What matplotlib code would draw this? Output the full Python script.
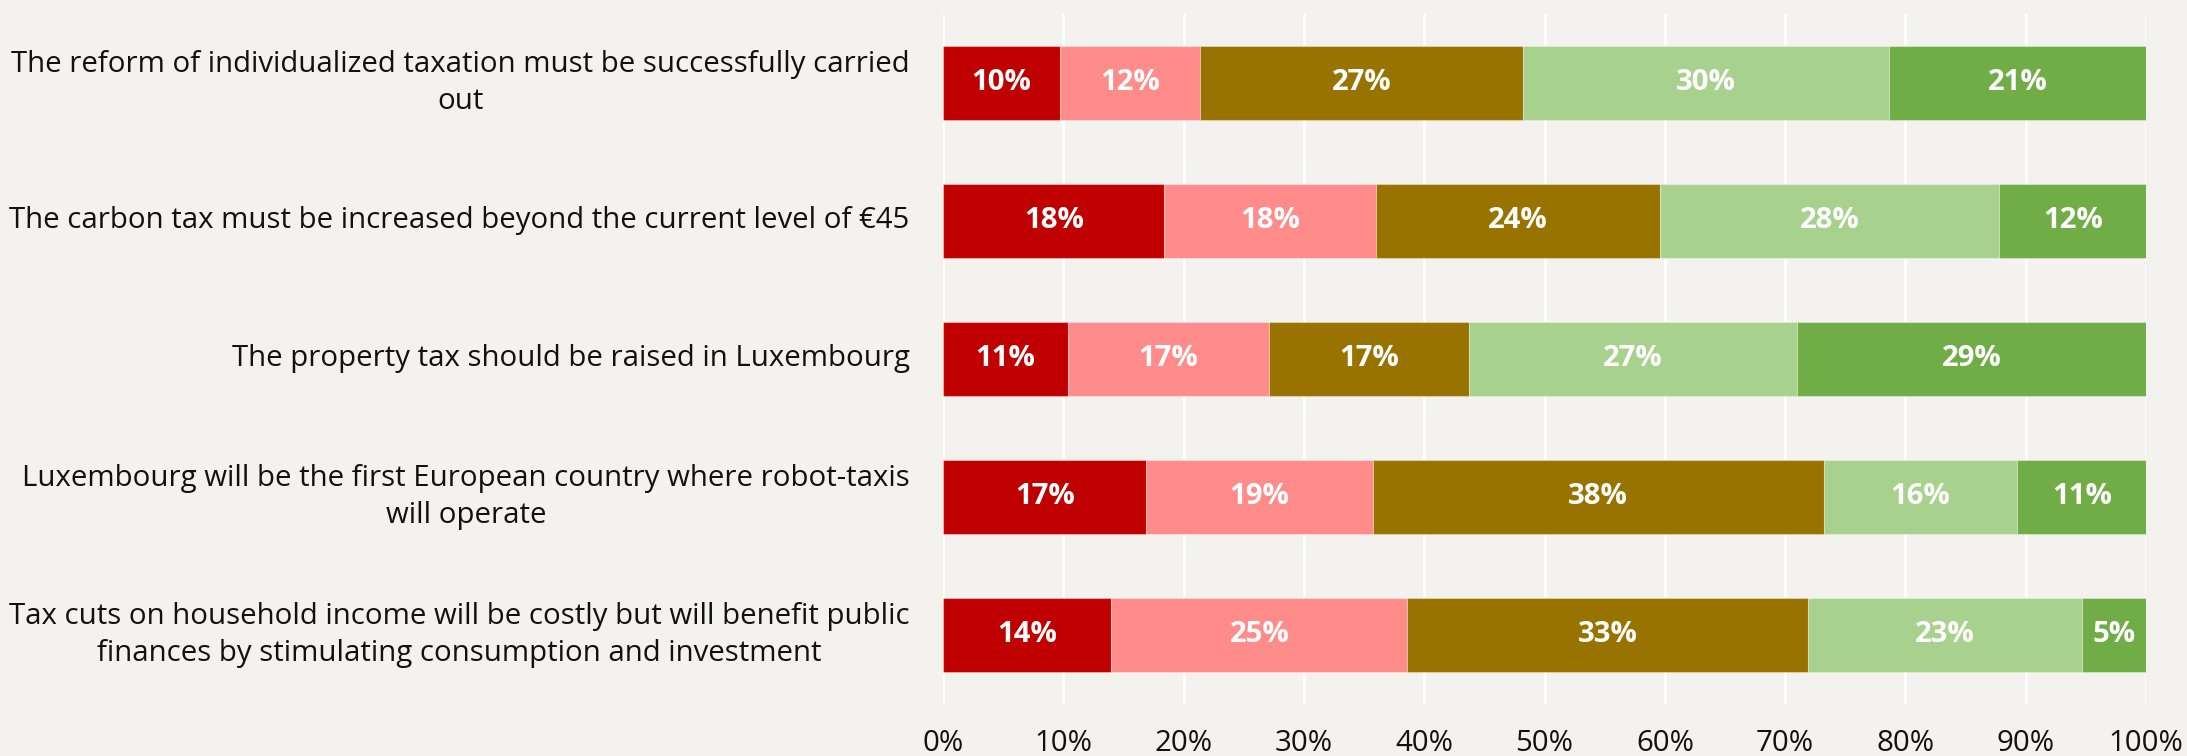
import matplotlib
matplotlib.use("Agg")
import matplotlib.pyplot as plt
import numpy as np

plt.rcParams['font.family'] = ['Open Sans', 'DejaVu Sans']

statements = [
    "The reform of individualized taxation must be successfully carried\nout",
    "The carbon tax must be increased beyond the current level of €45",
    "The property tax should be raised in Luxembourg",
    "Luxembourg will be the first European country where robot-taxis\nwill operate",
    "Tax cuts on household income will be costly but will benefit public\nfinances by stimulating consumption and investment",
]

# shares (%) per answer category
s1 = [9.7, 18.4, 10.4, 16.9, 14.0]
s2 = [11.7, 17.6, 16.7, 18.8, 24.6]
s3 = [26.8, 23.6, 16.6, 37.5, 33.3]
s4 = [30.4, 28.2, 27.3, 16.1, 22.8]
s5 = [21.4, 12.2, 29.0, 10.7, 5.3]

# printed labels
l1 = ["10%", "18%", "11%", "17%", "14%"]
l2 = ["12%", "18%", "17%", "19%", "25%"]
l3 = ["27%", "24%", "17%", "38%", "33%"]
l4 = ["30%", "28%", "27%", "16%", "23%"]
l5 = ["21%", "12%", "29%", "11%", "5%"]

colors = ["#C00000", "#FF8B8B", "#997300", "#A9D18E", "#70AD47"]
bg = "#F3F2EE"

fig = plt.figure(figsize=(21.87, 7.56), dpi=100, facecolor=bg)
ax = fig.add_axes([0.4312, 0.0688, 0.9813 - 0.4312, 0.9815 - 0.0688])
ax.set_facecolor(bg)

y = np.arange(len(statements))
left = np.zeros(len(statements))
for vals, labs, c in zip([s1, s2, s3, s4, s5], [l1, l2, l3, l4, l5], colors):
    vals = np.array(vals)
    bars = ax.barh(y, vals, left=left, height=0.536, color=c,
                   edgecolor=(1, 1, 1, 0.35), linewidth=0.8, zorder=3)
    for b, lab in zip(bars, labs):
        ax.text(b.get_x() + b.get_width() / 2, b.get_y() + b.get_height() / 2,
                lab, ha='center', va='center', color='white',
                fontsize=21.2, fontweight='bold', zorder=4)
    left += vals

ax.set_xlim(0, 100)
ax.set_ylim(len(statements) - 0.5, -0.5)
ax.set_xticks(np.arange(0, 101, 10))
ax.set_xticklabels([f"{v}%" for v in range(0, 101, 10)])
ax.set_yticks(y)
ax.set_yticklabels(statements, multialignment='center', linespacing=1.38, va='center')
ax.tick_params(axis='x', length=0, pad=18, labelsize=21.2, colors='#111111')
ax.tick_params(axis='y', length=0, pad=24, labelsize=21.2, colors='#111111')
ax.grid(axis='x', color='white', linewidth=2, zorder=0)
ax.set_axisbelow(True)
for s in ax.spines.values():
    s.set_visible(False)

fig.savefig("out.png", dpi=100, facecolor=bg)
